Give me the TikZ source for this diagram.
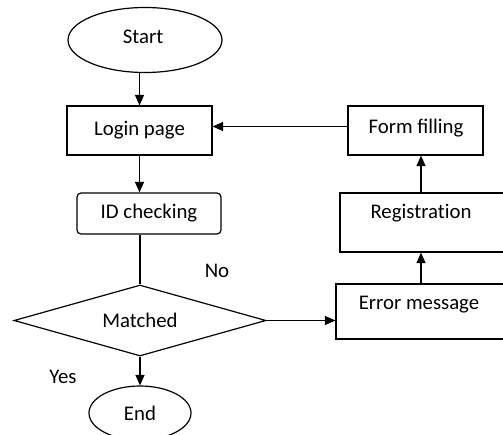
\documentclass[tikz,border=0pt]{standalone}
\usepackage{fontspec}
\setmainfont{Carlito}
\usetikzlibrary{shapes.geometric,arrows.meta}
\begin{document}
\begin{tikzpicture}[x=1pt,y=-1pt,
  every node/.style={font=\fontsize{20.8}{24}\selectfont},
  shp/.style={draw, line width=1.2pt, inner sep=0pt},
  box/.style={shp, rectangle},
  oval/.style={shp, ellipse},
  link/.style={line width=1.2pt, -{Triangle[length=10.5pt,width=9pt]}},
  plain/.style={line width=1.2pt}]
\useasboundingbox (0,0) rectangle (503,434);
\clip (0,0) rectangle (503,434);

% left column
\node[oval, minimum width=154pt, minimum height=65pt] (start) at (145,40) {};
\node (starttext) at (143,37) {Start};
\node[box, minimum width=145pt, minimum height=49pt] (login) at (139.5,130.5) {Login page};
\node[box, rounded corners=4pt, minimum width=144pt, minimum height=41pt] (idc) at (149,213.5) {ID checking};
\node[shp, diamond, aspect=3.55, minimum width=252pt, minimum height=71pt] (match) at (140,320.5) {Matched};
\node[oval, minimum width=102pt, minimum height=54pt] (end) at (140,413) {End};

% right column (boxes run past the right edge)
\node[box, minimum width=170pt, minimum height=55pt] (err) at (421,311.5) {};
\node (errtext) at (419,305) {Error message};
\node[box, minimum width=166pt, minimum height=59pt] (reg) at (423,222.5) {};
\node (regtext) at (421,213) {Registrat\kern0pt ion};
\node[box, minimum width=135pt, minimum height=49pt] (form) at (415.5,130.5) {};
\node (formtext) at (416,128) {Form filling};

% branch labels
\node (no) at (217,271) {No};
\node (yes) at (63,377) {Yes};

% connectors
\draw[link] (login.north |- start.south) -- (login.north);
\draw[link] (login.south) -- (login.south |- idc.north);
\draw[plain] (match.north |- idc.south) -- (match.north);
\draw[link] (match.south) -- (end.north);
\draw[link] (match.east) -- (err.west |- match.east);
\draw[link] (err.north) -- (reg.south -| err.north);
\draw[link] (reg.north -| err.north) -- (form.south -| err.north);
\draw[link] ([yshift=4pt]form.west) -- ([yshift=4pt]login.east);
\end{tikzpicture}
\end{document}
